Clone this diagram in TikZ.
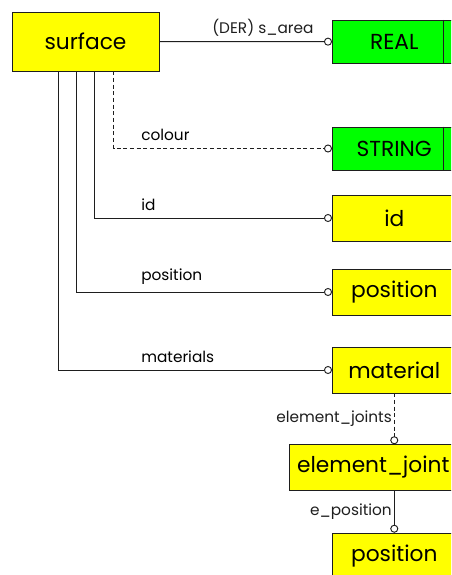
\documentclass[tikz,border=0pt]{standalone}
\usepackage{fontspec}
\setmainfont{Poppins}
\usepackage{xcolor}
\usepackage{tikz}
\usetikzlibrary{calc,arrows.meta}
\definecolor{entity}{RGB}{255, 255, 0}
\definecolor{basetype}{RGB}{0, 255, 0}
\definecolor{primary}{RGB}{30, 30, 30}

\tikzset{
  entbox/.style={draw=primary,fill=entity,minimum height=34.5pt,inner sep=0pt,font=\fontsize{16.3}{16.3}\selectfont},
  typebox/.style={entbox,fill=basetype,minimum height=32.25pt},
  rel/.style={primary,line width=0.7pt,-{Circle[open,length=6pt,width=6pt]}},
  opt/.style={rel,dash pattern=on 3pt off 2pt},
  lbl/.style={font=\fontsize{11.5}{11.5}\selectfont,inner sep=1.5pt}
}

\begin{document}
\begin{tikzpicture}[x=0.75pt,y=-0.75pt]
\useasboundingbox (0,0) rectangle (451,575);
\clip (0,0) rectangle (451,575);
\node[entbox,minimum width=110.25pt,minimum height=44.25pt] (surface) at (85.5,41.5) {surface};
\node[typebox,anchor=west,minimum width=93pt] (real) at (332,41.7) {REAL};
\node[typebox,anchor=west,minimum width=93pt] (string) at (332,148.5) {STRING};
\node[entbox,anchor=west,minimum width=93pt] (id) at (332,218) {id};
\node[entbox,anchor=west,minimum width=93pt] (position) at (332,292) {position};
\node[entbox,anchor=west,minimum width=93pt] (material) at (332,370) {material};
\node[entbox,anchor=west,minimum width=126pt] (joint) at (289,467.5) {element\_joint};
\node[entbox,anchor=west,minimum width=93pt] (jpos) at (332,556) {position};
% inner edge of the base type boxes
\draw[primary,line width=0.7pt] ([xshift=83.25pt]real.north west) -- ([xshift=83.25pt]real.south west);
\draw[primary,line width=0.7pt] ([xshift=83.25pt]string.north west) -- ([xshift=83.25pt]string.south west);
\coordinate (lblx) at (139,0);
% attributes of surface
\draw[rel] (surface) -- (real) node[lbl,pos=0.6,above=2pt]{(DER) s\_area};
\draw[opt] ([xshift=76.5pt]surface.south west) |- (string.west);
\node[lbl,anchor=south west,yshift=4pt] (colourlbl) at (lblx |- string.west) {colour};
\draw[rel] ([xshift=62.25pt]surface.south west) |- (id.west);
\node[lbl,anchor=south west,yshift=4pt] (idlbl) at (lblx |- id.west) {id};
\draw[rel] ([xshift=48.5pt]surface.south west) |- (position.west);
\node[lbl,anchor=south west,yshift=4pt] (poslbl) at (lblx |- position.west) {position};
\draw[rel] ([xshift=34.7pt]surface.south west) |- (material.west);
\node[lbl,anchor=south west,yshift=4pt] (matlbl) at (lblx |- material.west) {materials};
% material chain
\draw[opt] (material.south) -- (material.south |- joint.north) node[lbl,midway,left]{element\_joints};
\draw[rel] (material.south |- joint.south) -- (jpos.north) node[lbl,midway,left]{e\_position};
\end{tikzpicture}
\end{document}
